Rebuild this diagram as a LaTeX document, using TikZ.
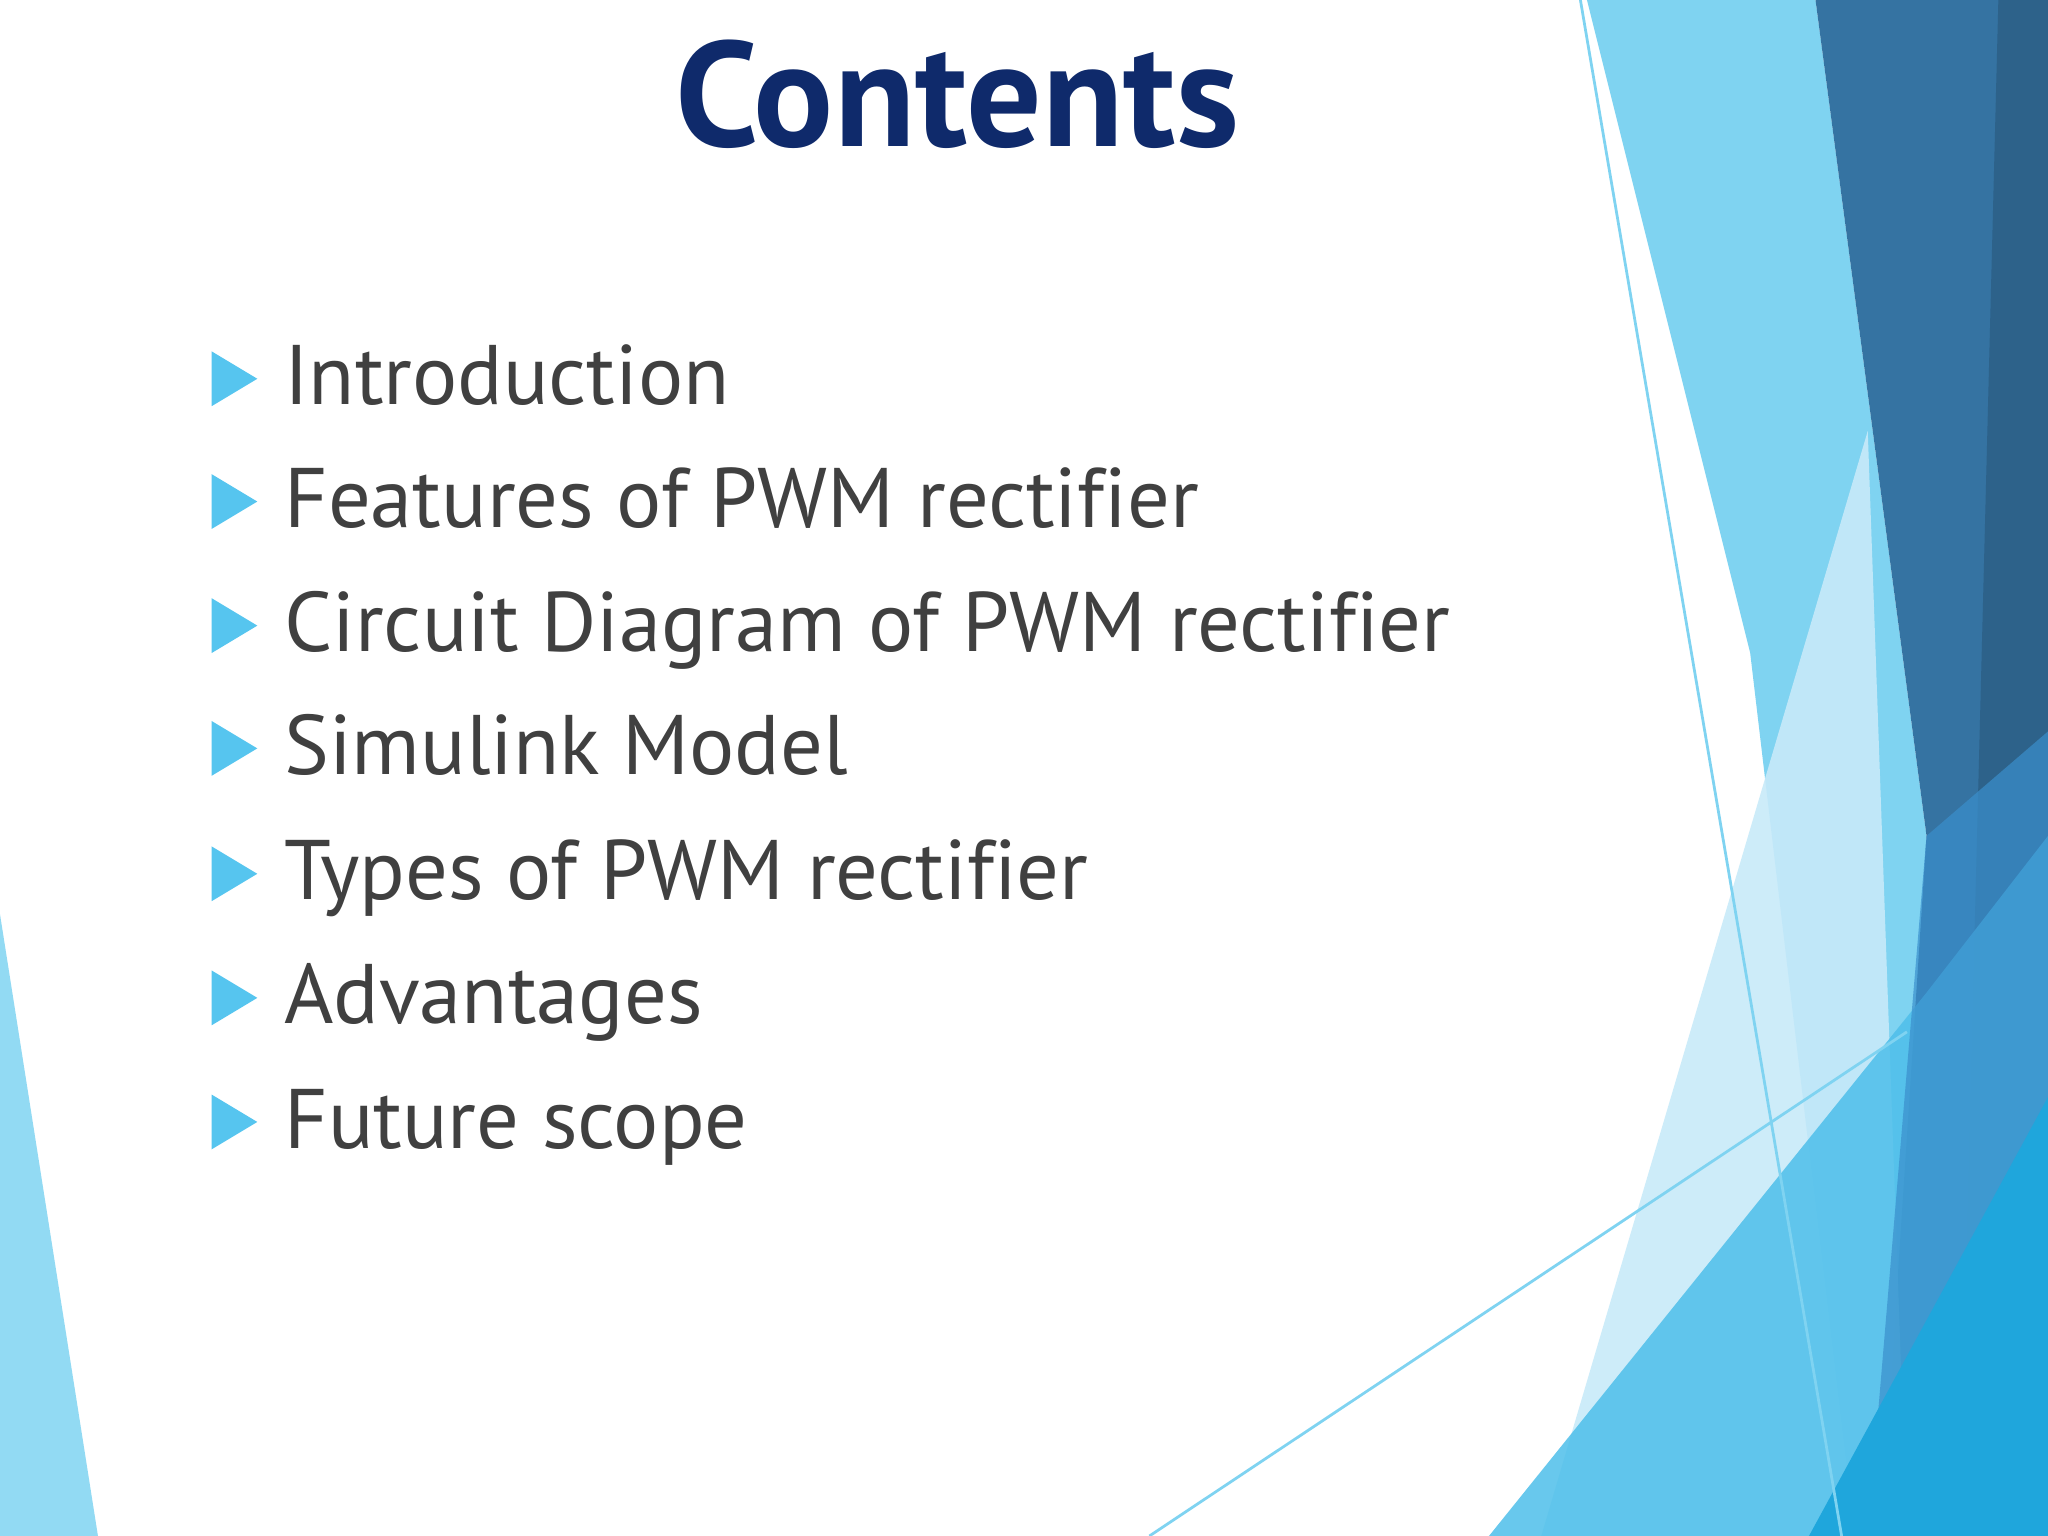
\documentclass[tikz,border=0pt]{standalone}
\usepackage{fontspec}
\setmainfont[Ligatures=NoCommon]{PT Sans}
\newfontfamily\titlefont{PT Sans}
\definecolor{navy}{HTML}{0F2A6B}
\definecolor{itemgray}{HTML}{404040}
\definecolor{bul}{HTML}{56C5EF}
\definecolor{lsky}{HTML}{7FD3F1}
\definecolor{dsteel}{HTML}{3573A2}
\definecolor{pale}{HTML}{C8EAF9}
\definecolor{mblue}{HTML}{4EBFEA}
\definecolor{bblue}{HTML}{1FA6DC}
\definecolor{pblue}{HTML}{3A8FCC}
\begin{document}
\begin{tikzpicture}[x=0.01cm,y=-0.01cm,
  itemtxt/.style={anchor=base west,inner sep=0pt,text=itemgray,font=\fontsize{18.4pt}{20pt}\selectfont},
  bullet/.style={fill=bul}]
\useasboundingbox (0,0) rectangle (1568,1176);
\fill[white] (0,0) rectangle (1568,1176);
% left wedge
\fill[lsky!85] (0,700) -- (75,1176) -- (0,1176) -- cycle;
% right decorations
\fill[lsky] (1215,0) -- (1390,0) -- (1475,640) -- (1450,1176) -- (1420,1176) -- (1340,500) -- cycle;
\fill[dsteel] (1390,0) -- (1568,0) -- (1568,1176) -- (1440,1176) -- (1475,640) -- cycle;
\fill[dsteel!85!black] (1530,0) -- (1568,0) -- (1568,1176) -- (1500,1176) -- cycle;
\fill[pale,opacity=0.9] (1430,330) -- (1460,1176) -- (1180,1176) -- cycle;
\fill[mblue,opacity=0.85] (1140,1176) -- (1475,760) -- (1568,640) -- (1568,1176) -- cycle;
\fill[pblue,opacity=0.7] (1475,640) -- (1568,560) -- (1568,1176) -- (1430,1176) -- cycle;
\fill[bblue] (1385,1176) -- (1568,840) -- (1568,1176) -- cycle;
\draw[lsky,line width=0.6pt] (1210,0) -- (1410,1176);
\draw[lsky,line width=0.6pt] (880,1176) -- (1460,790);
% title
\node[text=navy,font=\titlefont\bfseries\fontsize{32.5pt}{34pt}\selectfont,inner sep=0pt] (title) at (733,72) {Contents};
% items
\foreach \i/\t [count=\n] in {290/Introduction,384/Features of PWM rectifier,479/Circuit Diagram of PWM rectifier,573/Simulink Model,669/Types of PWM rectifier,764/Advantages,859/Future scope}{
  \fill[bullet] (162,\i-21) -- (197,\i) -- (162,\i+21) -- cycle;
  \node[itemtxt] (item\n) at (217,\i+20) {\t};
}
\end{tikzpicture}
\end{document}
